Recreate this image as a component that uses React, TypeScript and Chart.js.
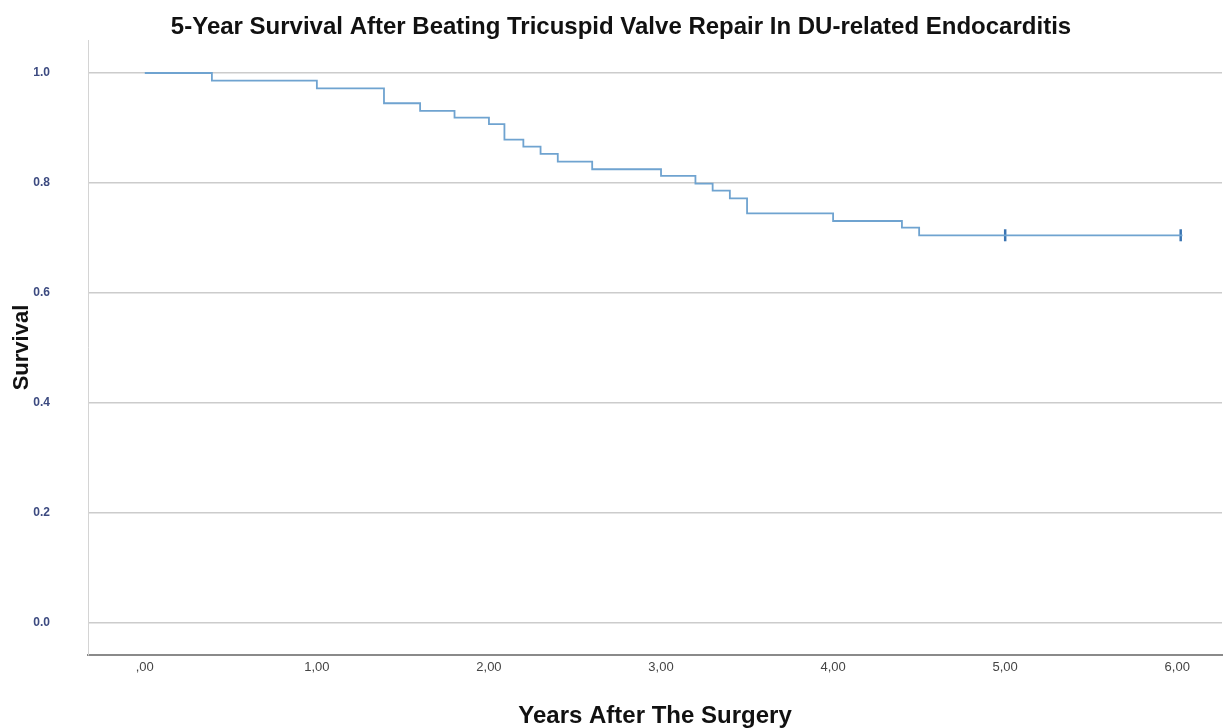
import React, { useEffect, useRef } from "react";
import { Chart, registerables } from "chart.js";

Chart.register(...registerables);

const TITLE = "5-Year Survival After Beating Tricuspid Valve Repair In DU-related Endocarditis";
const X_TITLE = "Years After The Surgery";
const Y_TITLE = "Survival";

// Kaplan-Meier step points: time (years) and survival after each event
const eventTimes = [0, 0.39, 1.0, 1.39, 1.6, 1.8, 2.0, 2.09, 2.2, 2.3, 2.4, 2.6, 3.0, 3.2, 3.3, 3.4, 3.5, 4.0, 4.4, 4.5, 6.03];
const survival = [1.0, 0.986, 0.972, 0.945, 0.931, 0.919, 0.907, 0.879, 0.866, 0.853, 0.839, 0.825, 0.813, 0.799, 0.786, 0.772, 0.745, 0.731, 0.719, 0.705, 0.705];

// censored observations
const censorTimes = [5.0, 6.02];
const censorSurvival = [0.705, 0.705];

const xTickValues = [0, 1, 2, 3, 4, 5, 6];
const xTickLabels = [",00", "1,00", "2,00", "3,00", "4,00", "5,00", "6,00"];
const yTickValues = [0, 0.2, 0.4, 0.6, 0.8, 1.0];
const yTickLabels = ["0.0", "0.2", "0.4", "0.6", "0.8", "1.0"];

const FONT = "'Liberation Sans', Arial, sans-serif";

const titlePlugin = {
  id: "spssTitle",
  afterDraw(chart: any) {
    const ctx = chart.ctx;
    ctx.save();
    ctx.font = `bold 24px ${FONT}`;
    ctx.fillStyle = "#111111";
    ctx.textAlign = "center";
    ctx.textBaseline = "middle";
    ctx.fillText(TITLE, 621, 27);
    ctx.restore();
  },
};

export default function App() {
  const canvasRef = useRef<HTMLCanvasElement | null>(null);

  useEffect(() => {
    document.body.style.margin = "0";
    const canvas = canvasRef.current;
    if (!canvas) return;

    const linePoints = eventTimes.map((t, i) => ({ x: t, y: survival[i] }));
    const censorPoints = censorTimes.map((t, i) => ({ x: t, y: censorSurvival[i] }));

    const chart = new Chart(canvas, {
      type: "line",
      data: {
        datasets: [
          {
            label: "Survival",
            data: linePoints,
            stepped: "before",
            borderColor: "#6fa3d0",
            borderWidth: 1.8,
            pointRadius: 0,
            fill: false,
          },
          {
            label: "Censored",
            data: censorPoints,
            showLine: false,
            pointStyle: "line",
            rotation: 90,
            pointRadius: 6,
            pointBorderWidth: 2.5,
            pointBorderColor: "#3a74b2",
            borderColor: "#3a74b2",
            backgroundColor: "#3a74b2",
          },
        ],
      },
      plugins: [titlePlugin],
      options: {
        animation: false,
        responsive: false,
        layout: { autoPadding: false, padding: { left: 0, right: 2, top: 40, bottom: 0 } },
        plugins: {
          legend: { display: false },
          tooltip: { enabled: false },
          title: { display: false },
        },
        scales: {
          x: {
            type: "linear",
            min: -0.33,
            max: 6.26,
            afterFit: (scale: any) => {
              scale.height = 73;
              scale.paddingLeft = 0;
              scale.paddingRight = 0;
            },
            afterBuildTicks: (scale: any) => {
              scale.ticks = xTickValues.map((v) => ({ value: v }));
            },
            ticks: {
              includeBounds: false,
              padding: 5,
              color: "#444444",
              font: { family: FONT, size: 13 },
              callback: (value: any) => {
                const i = xTickValues.indexOf(Number(value));
                return i >= 0 ? xTickLabels[i] : "";
              },
            },
            grid: { display: false, drawTicks: false },
            border: { display: true, color: "#8a8a8a", width: 2 },
            title: {
              display: true,
              text: X_TITLE,
              color: "#111111",
              font: { family: FONT, size: 24, weight: "bold", lineHeight: 1.0 },
              padding: { top: 0, bottom: 0 },
            },
          },
          y: {
            type: "linear",
            min: -0.058,
            max: 1.06,
            afterFit: (scale: any) => {
              scale.width = 88;
              scale.paddingTop = 0;
              scale.paddingBottom = 0;
            },
            afterBuildTicks: (scale: any) => {
              scale.ticks = yTickValues.map((v) => ({ value: v }));
            },
            ticks: {
              includeBounds: false,
              padding: 38,
              color: "#3c4a80",
              font: { family: FONT, size: 12, weight: "bold" },
              callback: (value: any) => {
                const i = yTickValues.findIndex((v) => Math.abs(v - Number(value)) < 1e-6);
                return i >= 0 ? yTickLabels[i] : "";
              },
            },
            grid: { display: true, drawTicks: false, color: "#cccccc", lineWidth: 1.5 },
            border: { display: true, color: "#d4d4d4", width: 1 },
            title: {
              display: true,
              text: Y_TITLE,
              color: "#111111",
              font: { family: FONT, size: 22, weight: "bold" },
              padding: { top: 9, bottom: 0 },
            },
          },
        },
      },
    });

    return () => {
      chart.destroy();
    };
  }, []);

  return (
    <div style={{ position: "absolute", left: 0, top: 0, width: 1224, height: 728, background: "#ffffff" }}>
      <canvas ref={canvasRef} width={1224} height={728} style={{ display: "block" }} />
    </div>
  );
}
